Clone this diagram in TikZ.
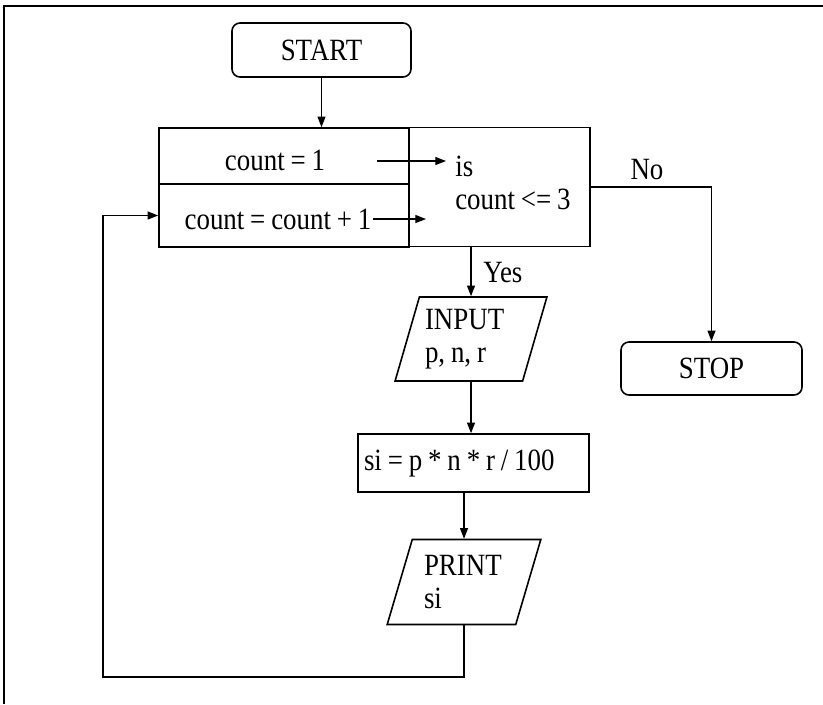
\documentclass[tikz,border=0pt]{standalone}
\usepackage{fontspec}
\setmainfont{Liberation Serif}[FakeStretch=0.87,WordSpace=0.87]
\usetikzlibrary{arrows.meta,shapes.geometric}

\begin{document}
\begin{tikzpicture}[x=0.75pt,y=0.75pt,yscale=-1,xscale=1,
  every node/.style={font=\fontsize{23.2}{24.5}\selectfont},
  box/.style={draw,line width=1.2pt,inner sep=0pt},
  term/.style={box,rounded corners=6pt},
  io/.style={box,trapezium,trapezium left angle=70,trapezium right angle=110,trapezium stretches=true},
  flow/.style={line width=0.9pt,-{Triangle[length=8pt,width=6pt]}}]
\useasboundingbox (0,0) rectangle (823,704);

%Straight Lines: page frame
\draw [line width=1.5pt] (823,6) -- (4,6) -- (4,704) ;

%Shape: Rounded Rect
\node [term,minimum width=134.25pt,minimum height=40.5pt] (start) at (321.5,50) {START};
%Shape: Rectangle
\node [box,minimum width=187.5pt,minimum height=42pt] (init) at (284,156) {};
%Shape: Rectangle
\node [box,minimum width=187.5pt,minimum height=47.25pt] (incr) at (284,215.5) {};
%Shape: Rectangle
\node [box,minimum width=135.75pt,minimum height=89.25pt] (tst) at (499.5,187) {};
%Shape: Parallelogram
\node [io,minimum width=114pt,minimum height=63pt,text width=69pt,align=flush left] (inp) at (471,339) {INPUT\\p, n, r};
%Shape: Rectangle
\node [box,minimum width=173.25pt,minimum height=43.5pt,text width=164.25pt,align=flush left] (si) at (473.5,463) {si = p * n * r / 100};
%Shape: Parallelogram
\node [io,minimum width=115.5pt,minimum height=63.75pt,text width=60pt,align=flush left] (prt) at (464,582) {PRINT\\si};
%Shape: Rounded Rect
\node [term,minimum width=135.75pt,minimum height=39.75pt] (stop) at (711.5,368.5) {STOP};

% Text Node
\node (inittxt) at (275,160) {count = 1};
% Text Node
\node [inner sep=1pt] (incrtxt) at (278,219) {count = count + 1};
% Text Node
\node [align=flush left,anchor=west,inner xsep=6.75pt,inner ysep=0pt] (cond) at (446,183) {is\\count <= 3};
% Text Node
\node (no) at (647,170) {No};
% Text Node
\node [anchor=west,inner sep=0pt] (yes) at (483,273) {Yes};

\coordinate (a1) at (377,161);
\coordinate (a2) at (426,217);
\coordinate (lb) at (103,677);

%Straight Lines
\draw [flow] (start) -- (start |- init.north) ;
\draw [flow] (a1) -- (a1 -| cond.west) ;
\draw [flow] (incrtxt.east) -- (incrtxt.east -| a2) ;
\draw [flow] (inp.north |- tst.south) -- (inp.north) ;
\draw [flow] (tst.east) -| (stop.north) ;
\draw [flow] (inp.south) -- (inp.south |- si.north) ;
\draw [flow] (prt.north |- si.south) -- (prt.north) ;
\draw [flow] (prt.south) |- (lb) |- (incr.west) ;

\end{tikzpicture}
\end{document}
